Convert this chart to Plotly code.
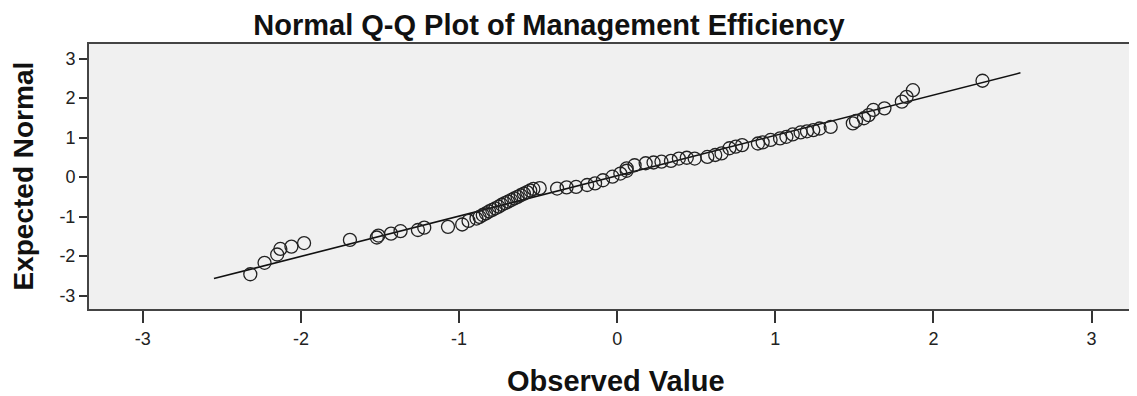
import plotly.graph_objects as go

observed = [
    -2.32, -2.23, -2.15, -2.13, -2.06, -1.98, -1.69, -1.52, -1.51, -1.43,
    -1.37, -1.26, -1.22, -1.07, -0.98, -0.94, -0.89,
    -0.87, -0.85, -0.83, -0.81, -0.79, -0.77, -0.75, -0.73, -0.71, -0.69,
    -0.67, -0.65, -0.63, -0.61, -0.59, -0.57, -0.55, -0.53, -0.49,
    -0.38, -0.32, -0.26, -0.19, -0.14, -0.09, -0.03, 0.02, 0.06,
    0.06, 0.11, 0.18, 0.23, 0.28, 0.34, 0.39, 0.44, 0.49, 0.57,
    0.62, 0.66, 0.71, 0.75, 0.79, 0.89, 0.92,
    0.97, 1.03, 1.07, 1.11, 1.16, 1.20, 1.24, 1.28, 1.35, 1.49,
    1.51, 1.56, 1.59, 1.62, 1.69, 1.80, 1.83, 1.87, 2.31,
]
expected = [
    -2.46, -2.17, -1.96, -1.82, -1.76, -1.67, -1.59, -1.53, -1.48, -1.43,
    -1.37, -1.34, -1.28, -1.26, -1.20, -1.11, -1.05,
    -1.01, -0.96, -0.92, -0.87, -0.83, -0.79, -0.75, -0.70, -0.66, -0.62,
    -0.58, -0.54, -0.50, -0.46, -0.42, -0.38, -0.34, -0.30, -0.28,
    -0.29, -0.26, -0.25, -0.20, -0.16, -0.08, 0.01, 0.09, 0.16,
    0.22, 0.30, 0.35, 0.37, 0.39, 0.41, 0.47, 0.49, 0.47, 0.51,
    0.56, 0.60, 0.73, 0.77, 0.81, 0.85, 0.88,
    0.94, 0.98, 1.02, 1.08, 1.13, 1.16, 1.19, 1.23, 1.27, 1.36,
    1.42, 1.49, 1.57, 1.70, 1.74, 1.91, 2.03, 2.20, 2.44,
]

# Reference line end points
line_x = [-2.55, 2.55]
line_y = [-2.57, 2.64]

tick_vals = [-3, -2, -1, 0, 1, 2, 3]
tick_text = ["-3", "-2", "-1", "0", "1", "2", "3"]

title_text = "Normal Q-Q Plot of Management Efficiency"
x_title = "Observed Value"
y_title = "Expected Normal"

# The page body has an 8px margin; the figure is sized to fit the window.
OFF = 8
W, H = 1137 - OFF, 396 - OFF
ML, MR, MT, MB = 89 - OFF, 0, 44 - OFF, 87
PW = W - ML - MR
PH = H - MT - MB

fig = go.Figure()
fig.add_trace(go.Scatter(
    x=line_x, y=line_y, mode="lines",
    line=dict(color="#111111", width=1.6), hoverinfo="skip", showlegend=False,
))
fig.add_trace(go.Scatter(
    x=observed, y=expected, mode="markers",
    marker=dict(symbol="circle-open", size=13, color="#222222",
                line=dict(width=1.3, color="#222222")),
    showlegend=False,
))

font_family = "Liberation Sans, Arial, sans-serif"

fig.update_layout(
    width=W, height=H, autosize=False,
    margin=dict(l=ML, r=MR, t=MT, b=MB, pad=0),
    paper_bgcolor="white", plot_bgcolor="#f0f0f0",
    font=dict(family=font_family, color="#222222"),
    showlegend=False,
    title=dict(text="<b>" + title_text + "</b>", x=(549 - OFF) / W,
               xanchor="center", xref="container",
               y=1 - (25 - OFF) / H, yanchor="middle", yref="container",
               font=dict(size=29, color="#111111", family=font_family)),
    xaxis=dict(range=[-3.34, 3.287], tickmode="array", tickvals=tick_vals,
               ticktext=tick_text, ticks="outside", ticklen=12, tickwidth=2,
               tickcolor="#333333", showgrid=False, zeroline=False,
               showline=True, linecolor="#444444", linewidth=2, mirror=True,
               tickfont=dict(size=18, color="#222222"), fixedrange=True),
    yaxis=dict(range=[-3.34, 3.37], tickmode="array", tickvals=tick_vals,
               ticktext=tick_text, ticks="outside", ticklen=8, tickwidth=2,
               tickcolor="#333333", showgrid=False, zeroline=False,
               showline=True, linecolor="#444444", linewidth=2,
               tickfont=dict(size=18, color="#222222"), fixedrange=True),
    annotations=[
        dict(text="<b>" + x_title + "</b>", xref="paper", yref="paper",
             x=(616 - 89) / PW, y=-(381 - 309) / PH,
             xanchor="center", yanchor="middle", showarrow=False,
             font=dict(size=29, color="#111111", family=font_family)),
        dict(text="<b>" + y_title + "</b>", xref="paper", yref="paper",
             x=(23 - 89) / PW, y=0.5, textangle=-90,
             xanchor="center", yanchor="middle", showarrow=False,
             font=dict(size=28, color="#111111", family=font_family)),
    ],
)

fig.write_html("out.html")
